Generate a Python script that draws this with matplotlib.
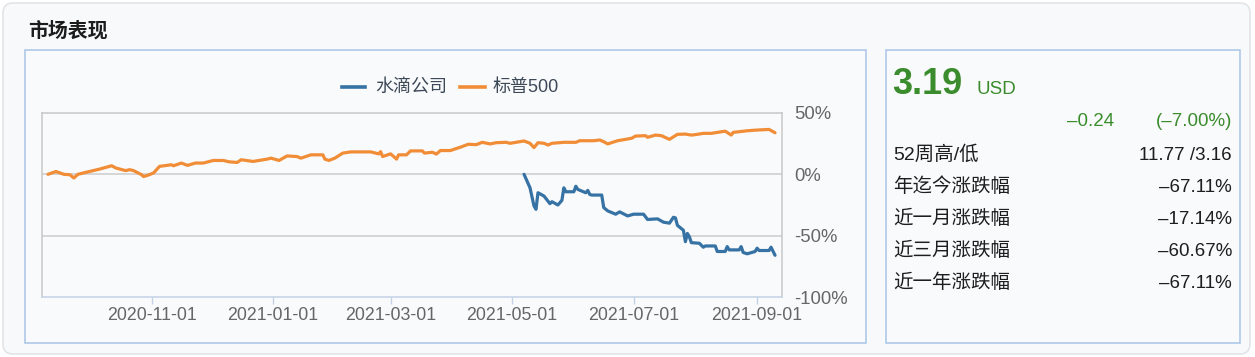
import matplotlib
matplotlib.use("Agg")
import matplotlib.pyplot as plt
from matplotlib.patches import FancyBboxPatch, Rectangle
from matplotlib.lines import Line2D
import pandas as pd

plt.rcParams['font.family'] = ['Liberation Sans', 'Noto Sans CJK SC', 'DejaVu Sans']

# ---------------- data ----------------
sp_dates = ["2020-09-10", "2020-09-14", "2020-09-18", "2020-09-21", "2020-09-23", "2020-09-25",
            "2020-09-29", "2020-10-06", "2020-10-12", "2020-10-14", "2020-10-19", "2020-10-21",
            "2020-10-23", "2020-10-27", "2020-10-28", "2020-10-30", "2020-11-02", "2020-11-05",
            "2020-11-11", "2020-11-12", "2020-11-16", "2020-11-19", "2020-11-23", "2020-11-27",
            "2020-12-02", "2020-12-07", "2020-12-10", "2020-12-14", "2020-12-16", "2020-12-22",
            "2020-12-29", "2020-12-31", "2021-01-04", "2021-01-08", "2021-01-13", "2021-01-15",
            "2021-01-20", "2021-01-26", "2021-01-27", "2021-01-29", "2021-02-01", "2021-02-05",
            "2021-02-09", "2021-02-19", "2021-02-23", "2021-02-24", "2021-02-25", "2021-03-01",
            "2021-03-04", "2021-03-05", "2021-03-09", "2021-03-11", "2021-03-17", "2021-03-18",
            "2021-03-22", "2021-03-24", "2021-03-26", "2021-03-31", "2021-04-05", "2021-04-09",
            "2021-04-13", "2021-04-16", "2021-04-20", "2021-04-23", "2021-04-28", "2021-04-30",
            "2021-05-07", "2021-05-10", "2021-05-12", "2021-05-14", "2021-05-17", "2021-05-19",
            "2021-05-21", "2021-05-27", "2021-06-02", "2021-06-04", "2021-06-11", "2021-06-14",
            "2021-06-16", "2021-06-18", "2021-06-23", "2021-06-30", "2021-07-02", "2021-07-07",
            "2021-07-08", "2021-07-12", "2021-07-15", "2021-07-19", "2021-07-23", "2021-07-27",
            "2021-07-30", "2021-08-02", "2021-08-05", "2021-08-09", "2021-08-16", "2021-08-19",
            "2021-08-20", "2021-08-27", "2021-08-31", "2021-09-07", "2021-09-10"]
sp_values = [0.0, 2.3, 0.0, -0.3, -3.0, 0.0,
             1.6, 4.3, 7.0, 5.2, 3.0, 3.8,
             3.0, -0.3, -1.8, -0.8, 1.1, 6.5,
             7.8, 7.0, 9.2, 7.3, 9.2, 9.2,
             11.3, 11.3, 10.2, 9.7, 11.9, 10.5,
             12.4, 13.2, 11.3, 15.0, 14.5, 13.2,
             15.9, 15.9, 12.4, 11.3, 13.2, 17.3,
             18.3, 18.3, 16.7, 18.5, 14.5, 16.7,
             12.4, 15.9, 15.9, 19.1, 19.1, 17.3,
             18.0, 16.5, 19.4, 19.4, 22.1, 24.5,
             24.2, 26.1, 24.8, 25.8, 26.1, 25.3,
             27.2, 25.3, 21.8, 25.8, 25.3, 23.9,
             25.3, 26.1, 26.1, 27.4, 27.4, 28.0,
             26.6, 24.8, 27.4, 29.4, 31.2, 31.5,
             30.2, 32.0, 31.5, 28.5, 32.6, 32.8,
             32.0, 32.6, 33.4, 33.4, 35.2, 32.0,
             34.2, 35.5, 36.0, 36.6, 33.9]

wd_dates = ["2021-05-07", "2021-05-10", "2021-05-12", "2021-05-13", "2021-05-14", "2021-05-17",
            "2021-05-19", "2021-05-20", "2021-05-21", "2021-05-24", "2021-05-25", "2021-05-26",
            "2021-05-27", "2021-05-28", "2021-06-01", "2021-06-02", "2021-06-03", "2021-06-07",
            "2021-06-08", "2021-06-09", "2021-06-10", "2021-06-15", "2021-06-16", "2021-06-18",
            "2021-06-22", "2021-06-24", "2021-06-28", "2021-07-01", "2021-07-06", "2021-07-08",
            "2021-07-13", "2021-07-16", "2021-07-19", "2021-07-21", "2021-07-22", "2021-07-23",
            "2021-07-26", "2021-07-27", "2021-07-28", "2021-07-29", "2021-07-30", "2021-08-03",
            "2021-08-05", "2021-08-06", "2021-08-11", "2021-08-12", "2021-08-16", "2021-08-17",
            "2021-08-18", "2021-08-23", "2021-08-24", "2021-08-25", "2021-08-27", "2021-08-31",
            "2021-09-01", "2021-09-02", "2021-09-07", "2021-09-08", "2021-09-10"]
wd_values = [0.0, -11.0, -25.8, -28.5, -15.0, -17.7,
             -21.8, -23.9, -22.3, -25.0, -23.1, -21.2,
             -11.0, -14.2, -14.2, -9.7, -12.3, -15.0,
             -13.1, -16.4, -16.9, -16.9, -27.1, -29.8,
             -32.5, -30.6, -33.9, -32.5, -32.5, -36.8,
             -36.3, -39.0, -39.8, -35.0, -35.5, -41.6,
             -45.6, -54.9, -48.2, -50.9, -55.7, -56.2,
             -59.4, -58.4, -58.4, -62.9, -62.9, -58.9,
             -61.6, -61.6, -58.9, -63.7, -64.8, -62.9,
             -60.2, -62.1, -62.1, -59.4, -66.0]

series_names = ["水滴公司", "标普500"]
x_tick_dates = ["2020-11-01", "2021-01-01", "2021-03-01", "2021-05-01", "2021-07-01", "2021-09-01"]
y_ticks = [50, 0, -50, -100]
y_tick_labels = ["50%", "0%", "-50%", "-100%"]

price = "3.19"
currency = "USD"
change = "–0.24"
change_pct = "(–7.00%)"
stat_labels = ["52周高/低", "年迄今涨跌幅", "近一月涨跌幅", "近三月涨跌幅", "近一年涨跌幅"]
stat_values = ["11.77 /3.16", "–67.11%", "–17.14%", "–60.67%", "–67.11%"]

# ---------------- layout ----------------
W, H = 1255, 357
fig = plt.figure(figsize=(W / 100, H / 100), dpi=100)
fig.patch.set_facecolor('white')


def fx(x):
    return x / W


def fy(y):
    return 1 - y / H


def inch_box(x0, y0, x1, y1):
    # pixel box (top-left origin) -> inches box (bottom-left origin)
    return x0 / 100, (H - y1) / 100, (x1 - x0) / 100, (y1 - y0) / 100


bx, by, bw, bh = inch_box(3, 3, 1250, 354)
card = FancyBboxPatch((bx, by), bw, bh, boxstyle="round,pad=0,rounding_size=0.1",
                      transform=fig.dpi_scale_trans, facecolor='#f8f9fb',
                      edgecolor='#e2e4e8', lw=1.2, zorder=0)
fig.patches.append(card)

panel_col = '#a9c4e6'
for (x0, y0, x1, y1) in [(25, 50, 866, 343), (886, 50, 1240, 343)]:
    px, py, pw, ph = inch_box(x0, y0, x1, y1)
    fig.patches.append(Rectangle((px, py), pw, ph, transform=fig.dpi_scale_trans,
                                 facecolor='#f9fafc', edgecolor=panel_col, lw=1.1, zorder=0.5))

fig.text(fx(28), fy(30), "市场表现", fontsize=14.3, fontweight='bold', color='#1c1c1c',
         va='center', ha='left', family=['Noto Sans CJK SC', 'DejaVu Sans'])

# ---------------- chart ----------------
ax = fig.add_axes([fx(42), fy(297), fx(782 - 42), (297 - 113) / H])
ax.set_zorder(2)
ax.set_facecolor('none')

blue = '#3672a3'
orange = '#f08d36'

ax.axhline(0, color='#cccccc', lw=1.1, zorder=1)
ax.axhline(-50, color='#cccccc', lw=1.1, zorder=1)

ax.plot(pd.to_datetime(sp_dates), sp_values, color=orange, lw=2.3, zorder=3,
        solid_joinstyle='round', solid_capstyle='round')
ax.plot(pd.to_datetime(wd_dates), wd_values, color=blue, lw=2.3, zorder=4,
        solid_joinstyle='round', solid_capstyle='round')

ax.set_xlim(pd.Timestamp("2020-09-07"), pd.Timestamp("2021-09-13 12:00"))
ax.set_ylim(-100, 50)

for s in ['top', 'left', 'right']:
    ax.spines[s].set_color('#c8c8c8')
    ax.spines[s].set_linewidth(1.1)
ax.spines['bottom'].set_color('#c3d2e6')
ax.spines['bottom'].set_linewidth(1.1)

ax.set_xticks(pd.to_datetime(x_tick_dates))
ax.set_xticklabels(x_tick_dates)
ax.tick_params(axis='x', length=5, width=1, color='#c3d2e6', labelcolor='#666666',
               labelsize=12.8, pad=2)

ax.yaxis.tick_right()
ax.set_yticks(y_ticks)
ax.set_yticklabels(y_tick_labels)
ax.tick_params(axis='y', length=0, labelcolor='#666666', labelsize=13.3, pad=9)

# legend (manual)
leg_y = fy(87)
legend_text = '#3d4957'
fig.add_artist(Line2D([fx(342), fx(365)], [leg_y, leg_y], transform=fig.transFigure,
                      color=blue, lw=2.6))
fig.text(fx(375), leg_y, series_names[0], fontsize=13, color=legend_text, va='center', ha='left')
fig.add_artist(Line2D([fx(460), fx(485)], [leg_y, leg_y], transform=fig.transFigure,
                      color=orange, lw=2.6))
fig.text(fx(493), leg_y, series_names[1], fontsize=13, color=legend_text, va='center', ha='left')

# ---------------- right panel ----------------
green = '#3b8c2c'
fig.text(fx(892), fy(94), price, fontsize=26, fontweight='bold', color=green,
         va='baseline', ha='left')
fig.text(fx(977), fy(94), currency, fontsize=13.5, color=green, va='baseline', ha='left')
fig.text(fx(1114), fy(122), change, fontsize=13.5, color=green, va='center', ha='right')
fig.text(fx(1232), fy(122), change_pct, fontsize=13.5, color=green, va='center', ha='right')

row_y = [155, 187, 219, 251, 283]
for lab, val, yy in zip(stat_labels, stat_values, row_y):
    fig.text(fx(893), fy(yy), lab, fontsize=14, color='#1e1e1e', va='center', ha='left')
    fig.text(fx(1232), fy(yy), val, fontsize=13.5, color='#1e1e1e', va='center', ha='right')

fig.savefig("out.png", dpi=100, facecolor=fig.get_facecolor())
